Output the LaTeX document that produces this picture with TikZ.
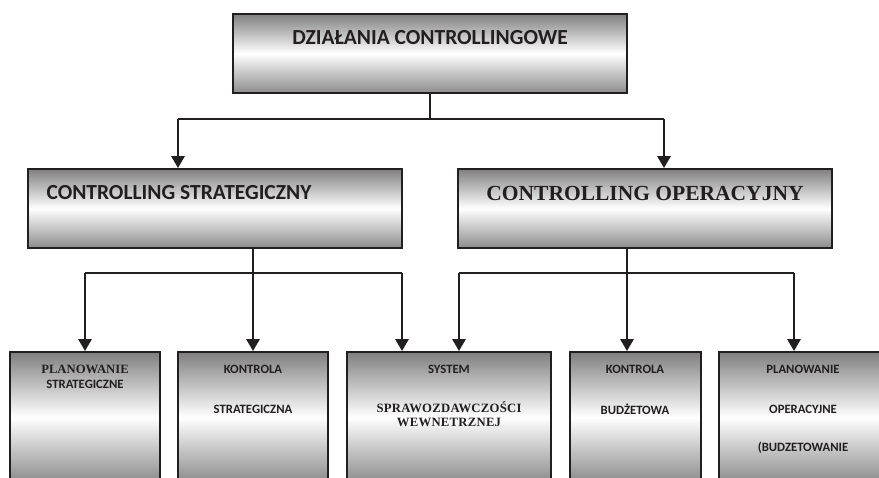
\documentclass[tikz,border=0pt]{standalone}
\usepackage{fontspec}
\setmainfont{Liberation Serif}
\newfontfamily\sansb{Carlito}
\usetikzlibrary{arrows.meta}
\definecolor{edge}{HTML}{231F20}
\tikzset{
  box/.style={draw=edge, line width=1.8pt, rectangle, inner sep=0pt,
    top color=black!50, bottom color=black!45, middle color=white},
  thinline/.style={draw=edge, line width=1.4pt},
  hline/.style={draw=edge, line width=1.7pt},
  arr/.style={draw=edge, line width=2.8pt, -{Triangle[width=13pt,length=12pt]}},
  bigsans/.style={font=\sansb\bfseries\fontsize{21.5}{24}\selectfont, text=edge},
  bigserif/.style={font=\bfseries\fontsize{21.5}{24}\selectfont, text=edge},
  smallsans/.style={font=\sansb\bfseries\fontsize{12.7}{14}\selectfont, text=edge, inner sep=0.5pt},
  smallserif/.style={font=\bfseries\fontsize{12.7}{14}\selectfont, text=edge, inner sep=0.5pt},
}
\begin{document}
\begin{tikzpicture}[x=1pt,y=-1pt]
\useasboundingbox (0,0) rectangle (879,478);
\clip (0,0) rectangle (879,478);
% boxes
\node[box, minimum width=394pt, minimum height=79pt] (top) at (430,53.5) {};
\node[box, minimum width=374pt, minimum height=79pt] (cs) at (215,208.5) {};
\node[box, minimum width=374pt, minimum height=79pt] (co) at (645,208.5) {};
\node[box, minimum width=150pt, minimum height=130pt] (b1) at (85,417) {};
\node[box, minimum width=150pt, minimum height=130pt] (b2) at (253,417) {};
\node[box, minimum width=204pt, minimum height=130pt] (b3) at (449,417) {};
\node[box, minimum width=131pt, minimum height=130pt] (b4) at (635.5,417) {};
\node[box, minimum width=168pt, minimum height=130pt] (b5) at (803,417) {};
% labels
\node[bigsans] (ltop) at (430,38) {DZIAŁANIA CONTROLLINGOWE};
\node[bigsans, anchor=west] (lcs) at (43,193) {CONTROLLING STRATEGICZNY};
\node[bigserif] (lco) at (645,193) {CONTROLLING OPERACYJNY};
\node[smallserif] (l1a) at (85,369) {PLANOWANIE};
\node[smallsans] (l1b) at (85,384) {STRATEGICZNE};
\node[smallsans] (l2a) at (253,369) {KONTROLA};
\node[smallsans] (l2b) at (253,409) {STRATEGICZNA};
\node[smallsans] (l3a) at (449,369) {SYSTEM};
\node[smallserif] (l3b) at (449,407) {\addfontfeatures{LetterSpace=2}SPRAWOZDAWCZOŚCI};
\node[smallserif] (l3c) at (449,422) {\addfontfeatures{LetterSpace=2}WEWNETRZNEJ};
\node[smallsans] (l4a) at (635,369) {KONTROLA};
\node[smallsans] (l4b) at (635,409) {BUDŻETOWA};
\node[smallsans] (l5a) at (803,369) {PLANOWANIE};
\node[smallsans] (l5b) at (803,409) {OPERACYJNE};
\node[smallsans] (l5c) at (803,448) {(BUDZETOWANIE};
% junction coordinates
\coordinate (j0) at (top.south |- 0,119);
\coordinate (jL) at (178,119);
\coordinate (jR) at (664,119);
\coordinate (s1) at (253,273);
\coordinate (s1L) at (85,273);
\coordinate (s1R) at (402,273);
\coordinate (s2) at (627,273);
\coordinate (s2L) at (459,273);
\coordinate (s2R) at (794,273);
% connectors
\draw[thinline] (top.south) -- (j0);
\draw[hline] (jL) -- (jR);
\draw[arr] (jL) -- (jL |- cs.north);
\draw[arr] (jR) -- (jR |- co.north);
\draw[hline] (s1L) -- (s1R);
\draw[arr] (s1 |- cs.south) -- (s1 |- b2.north);
\draw[arr] (s1L) -- (s1L |- b1.north);
\draw[arr] (s1R) -- (s1R |- b3.north);
\draw[hline] (s2L) -- (s2R);
\draw[arr] (s2 |- co.south) -- (s2 |- b4.north);
\draw[arr] (s2L) -- (s2L |- b3.north);
\draw[arr] (s2R) -- (s2R |- b5.north);
\end{tikzpicture}
\end{document}
